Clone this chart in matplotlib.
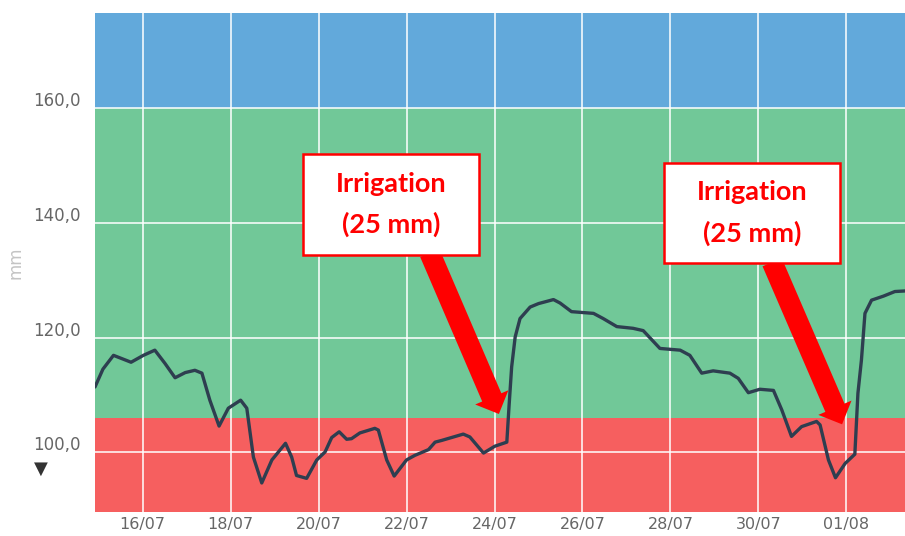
import matplotlib
matplotlib.use("Agg")
import matplotlib.pyplot as plt
from matplotlib.patches import Rectangle, FancyArrowPatch
from matplotlib.transforms import ScaledTranslation

# ---- data (day of July, decimal; 32 = 01/08) ----
days = [14.92, 15.10, 15.34, 15.74, 16.02, 16.28, 16.51, 16.74, 16.97, 17.19,
        17.35, 17.53, 17.74, 17.95, 18.23, 18.37, 18.52, 18.71, 18.94, 19.25,
        19.39, 19.50, 19.73, 19.96, 20.15, 20.30, 20.47, 20.64, 20.75, 20.94,
        21.28, 21.36, 21.55, 21.72, 22.00, 22.19, 22.50, 22.65, 22.80, 23.29,
        23.44, 23.75, 24.01, 24.28, 24.33, 24.39, 24.47, 24.58, 24.81, 25.00,
        25.34, 25.49, 25.75, 26.25, 26.47, 26.78, 27.15, 27.38, 27.76, 28.22,
        28.44, 28.71, 28.97, 29.35, 29.54, 29.77, 30.03, 30.34, 30.53, 30.75,
        30.98, 31.32, 31.40, 31.59, 31.75, 31.97, 32.19, 32.26, 32.34, 32.42,
        32.57, 32.84, 33.10, 33.33]
values = [111.4, 114.5, 116.9, 115.7, 116.9, 117.8, 115.5, 113.0, 113.9, 114.3,
          113.8, 109.1, 104.6, 107.7, 109.1, 107.7, 99.2, 94.7, 98.7, 101.6,
          99.2, 96.0, 95.5, 98.7, 100.1, 102.6, 103.6, 102.3, 102.4, 103.4,
          104.2, 103.9, 98.7, 95.9, 98.7, 99.5, 100.5, 101.8, 102.1, 103.2,
          102.7, 99.9, 101.1, 101.8, 108.0, 114.9, 120.1, 123.3, 125.3, 125.9,
          126.6, 126.0, 124.5, 124.2, 123.3, 121.9, 121.6, 121.2, 118.1, 117.8,
          116.9, 113.8, 114.2, 113.8, 112.9, 110.4, 111.0, 110.8, 107.4, 102.8,
          104.5, 105.4, 104.8, 98.7, 95.6, 98.1, 99.7, 110.3, 116.1, 124.2,
          126.5, 127.2, 128.0, 128.1]

tick_days = [16, 18, 20, 22, 24, 26, 28, 30, 32]
tick_labels = ["16/07", "18/07", "20/07", "22/07", "24/07", "26/07", "28/07", "30/07", "01/08"]
y_ticks = [100, 120, 140, 160]
y_tick_labels = ["100,0", "120,0", "140,0", "160,0"]

zone_red = (89.7, 106.0)
zone_green = (106.0, 160.0)
zone_blue = (160.0, 176.4)

annot_text = "Irrigation\n(25 mm)"
annot_boxes = [(19.65, 134.3, 23.65, 151.9), (27.85, 132.95, 31.85, 150.4)]
annot_arrows = [((22.53, 134.7), (24.10, 106.7)), ((30.31, 133.1), (31.90, 104.9))]

# ---- figure ----
fig = plt.figure(figsize=(9.05, 5.36), dpi=100)
ax = fig.add_axes([95 / 905, (536 - 511.7) / 536, 810 / 905, (511.7 - 13.3) / 536])

xmin, xmax = 14.92, 33.33
ax.set_xlim(xmin, xmax)
ax.set_ylim(zone_red[0], zone_blue[1])

ax.axhspan(*zone_red, color="#F65F5F", lw=0, zorder=0)
ax.axhspan(*zone_green, color="#71C898", lw=0, zorder=0)
ax.axhspan(*zone_blue, color="#62A9DB", lw=0, zorder=0)

for d in tick_days:
    ax.axvline(d, color="white", lw=1.3, alpha=0.85, zorder=1)
for v in y_ticks:
    ax.axhline(v, color="white", lw=1.3, alpha=0.85, zorder=1)

ax.plot(days, values, color="#2E3E50", lw=2.4, solid_joinstyle="round",
        solid_capstyle="round", zorder=3)

ax.set_xticks(tick_days)
ax.set_xticklabels(tick_labels)
ax.set_yticks(y_ticks)
ax.set_yticklabels(y_tick_labels)
ax.tick_params(axis="both", length=0, colors="#666666", labelsize=12)
ax.tick_params(axis="y", pad=10)
ax.tick_params(axis="x", pad=4, labelsize=11.5)
# y tick labels sit slightly above their grid lines
offset = ScaledTranslation(0, 9 / 100, fig.dpi_scale_trans)
for lbl in ax.get_yticklabels():
    lbl.set_transform(lbl.get_transform() + offset)
for s in ax.spines.values():
    s.set_visible(False)
ax.set_ylabel("mm", color="#c4c4c4", fontsize=12)
ax.yaxis.set_label_coords((24 - 95) / 810, 0.5)

fig.text(41 / 905, 1 - 469 / 536, "\u25BC", ha="center", va="center",
         fontsize=13, color="#333333", family="DejaVu Sans")

# annotations
for (x0, y0, x1, y1), (start, end) in zip(annot_boxes, annot_arrows):
    arr = FancyArrowPatch(start, end, arrowstyle="simple,head_length=13,head_width=26,tail_width=15",
                          mutation_scale=1, color="#FF0000", lw=0, shrinkA=0, shrinkB=0, zorder=4)
    ax.add_patch(arr)
    ax.add_patch(Rectangle((x0, y0), x1 - x0, y1 - y0, facecolor="white",
                           edgecolor="#FF0000", lw=1.8, zorder=5))
    ax.text((x0 + x1) / 2, (y0 + y1) / 2, annot_text, ha="center", va="center",
            color="#FF0000", fontsize=19.5, fontweight="bold", family="Lato",
            linespacing=1.75, zorder=6)

fig.savefig("out.png", dpi=100)
